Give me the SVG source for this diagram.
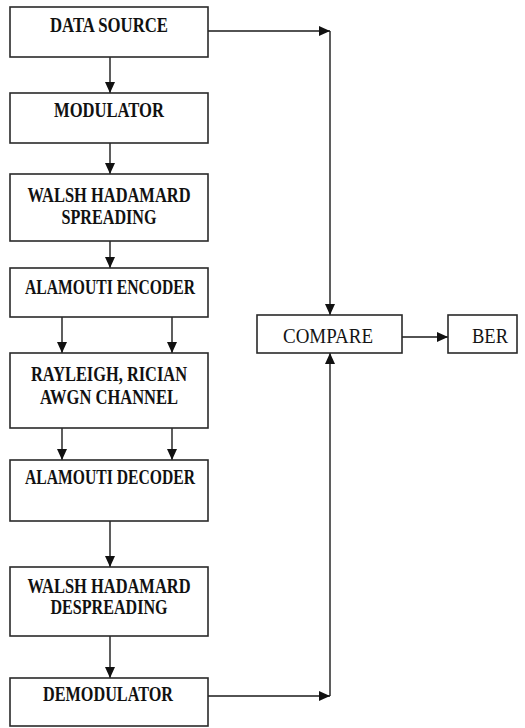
<svg xmlns="http://www.w3.org/2000/svg" width="525" height="728" viewBox="0 0 525 728">
<style>
.box{fill:#fff;stroke:#2a2a2a;stroke-width:1.6}
.t{font-family:"Liberation Serif","Times New Roman",serif;font-weight:bold;font-size:20px;fill:#111;text-anchor:middle}
.r{font-family:"Liberation Serif","Times New Roman",serif;font-size:21px;fill:#141414;text-anchor:middle}
.c{fill:none;stroke:#1a1a1a;stroke-width:1.4}
</style>
<defs>
<marker id="ah" markerUnits="userSpaceOnUse" markerWidth="12" markerHeight="10" refX="11" refY="5" orient="auto">
<path d="M0,0 L11,5 L0,10 z" fill="#111"/>
</marker>
</defs>
<g id="connectors">
<line class="c" x1="110" y1="57" x2="110" y2="93" marker-end="url(#ah)"/>
<line class="c" x1="110" y1="143" x2="110" y2="174" marker-end="url(#ah)"/>
<line class="c" x1="110" y1="241" x2="110" y2="268" marker-end="url(#ah)"/>
<line class="c" x1="62" y1="317" x2="62" y2="353" marker-end="url(#ah)"/>
<line class="c" x1="172" y1="317" x2="172" y2="353" marker-end="url(#ah)"/>
<line class="c" x1="62" y1="428" x2="62" y2="460" marker-end="url(#ah)"/>
<line class="c" x1="172" y1="428" x2="172" y2="460" marker-end="url(#ah)"/>
<line class="c" x1="110" y1="521" x2="110" y2="567" marker-end="url(#ah)"/>
<line class="c" x1="110" y1="636" x2="110" y2="678" marker-end="url(#ah)"/>
<line class="c" x1="208" y1="31" x2="330" y2="31" marker-end="url(#ah)"/>
<line class="c" x1="330" y1="31" x2="330" y2="315" marker-end="url(#ah)"/>
<line class="c" x1="208" y1="696" x2="330" y2="696" marker-end="url(#ah)"/>
<line class="c" x1="330" y1="696" x2="330" y2="353" marker-end="url(#ah)"/>
<line class="c" x1="402" y1="337" x2="448" y2="337" marker-end="url(#ah)"/>
</g>
<g id="data-source">
<rect class="box" x="10" y="7" width="198" height="50"/>
<text class="t" x="109" y="32" textLength="118" lengthAdjust="spacingAndGlyphs">DATA SOURCE</text>
</g>
<g id="modulator">
<rect class="box" x="10" y="93" width="198" height="50"/>
<text class="t" x="109" y="117" textLength="110" lengthAdjust="spacingAndGlyphs">MODULATOR</text>
</g>
<g id="wh-spreading">
<rect class="box" x="10" y="174" width="198" height="67"/>
<text class="t" x="109" y="202" textLength="163" lengthAdjust="spacingAndGlyphs">WALSH HADAMARD</text>
<text class="t" x="109" y="224" textLength="95" lengthAdjust="spacingAndGlyphs">SPREADING</text>
</g>
<g id="alamouti-encoder">
<rect class="box" x="10" y="268" width="198" height="49"/>
<text class="t" x="110" y="294" textLength="170" lengthAdjust="spacingAndGlyphs">ALAMOUTI ENCODER</text>
</g>
<g id="channel">
<rect class="box" x="10" y="353" width="198" height="75"/>
<text class="t" x="109" y="381" textLength="156" lengthAdjust="spacingAndGlyphs">RAYLEIGH, RICIAN</text>
<text class="t" x="109" y="404" textLength="138" lengthAdjust="spacingAndGlyphs">AWGN CHANNEL</text>
</g>
<g id="alamouti-decoder">
<rect class="box" x="10" y="460" width="198" height="61"/>
<text class="t" x="110" y="484" textLength="170" lengthAdjust="spacingAndGlyphs">ALAMOUTI DECODER</text>
</g>
<g id="wh-despreading">
<rect class="box" x="10" y="567" width="198" height="69"/>
<text class="t" x="109" y="593" textLength="163" lengthAdjust="spacingAndGlyphs">WALSH HADAMARD</text>
<text class="t" x="109" y="614" textLength="117" lengthAdjust="spacingAndGlyphs">DESPREADING</text>
</g>
<g id="demodulator">
<rect class="box" x="10" y="678" width="198" height="48"/>
<text class="t" x="108" y="701" textLength="130" lengthAdjust="spacingAndGlyphs">DEMODULATOR</text>
</g>
<g id="compare">
<rect class="box" x="257" y="315" width="145" height="38"/>
<text class="r" x="328" y="343" textLength="90" lengthAdjust="spacingAndGlyphs">COMPARE</text>
</g>
<g id="ber">
<rect class="box" x="448" y="315" width="69" height="38"/>
<text class="r" x="490" y="343" textLength="36" lengthAdjust="spacingAndGlyphs">BER</text>
</g>
</svg>
